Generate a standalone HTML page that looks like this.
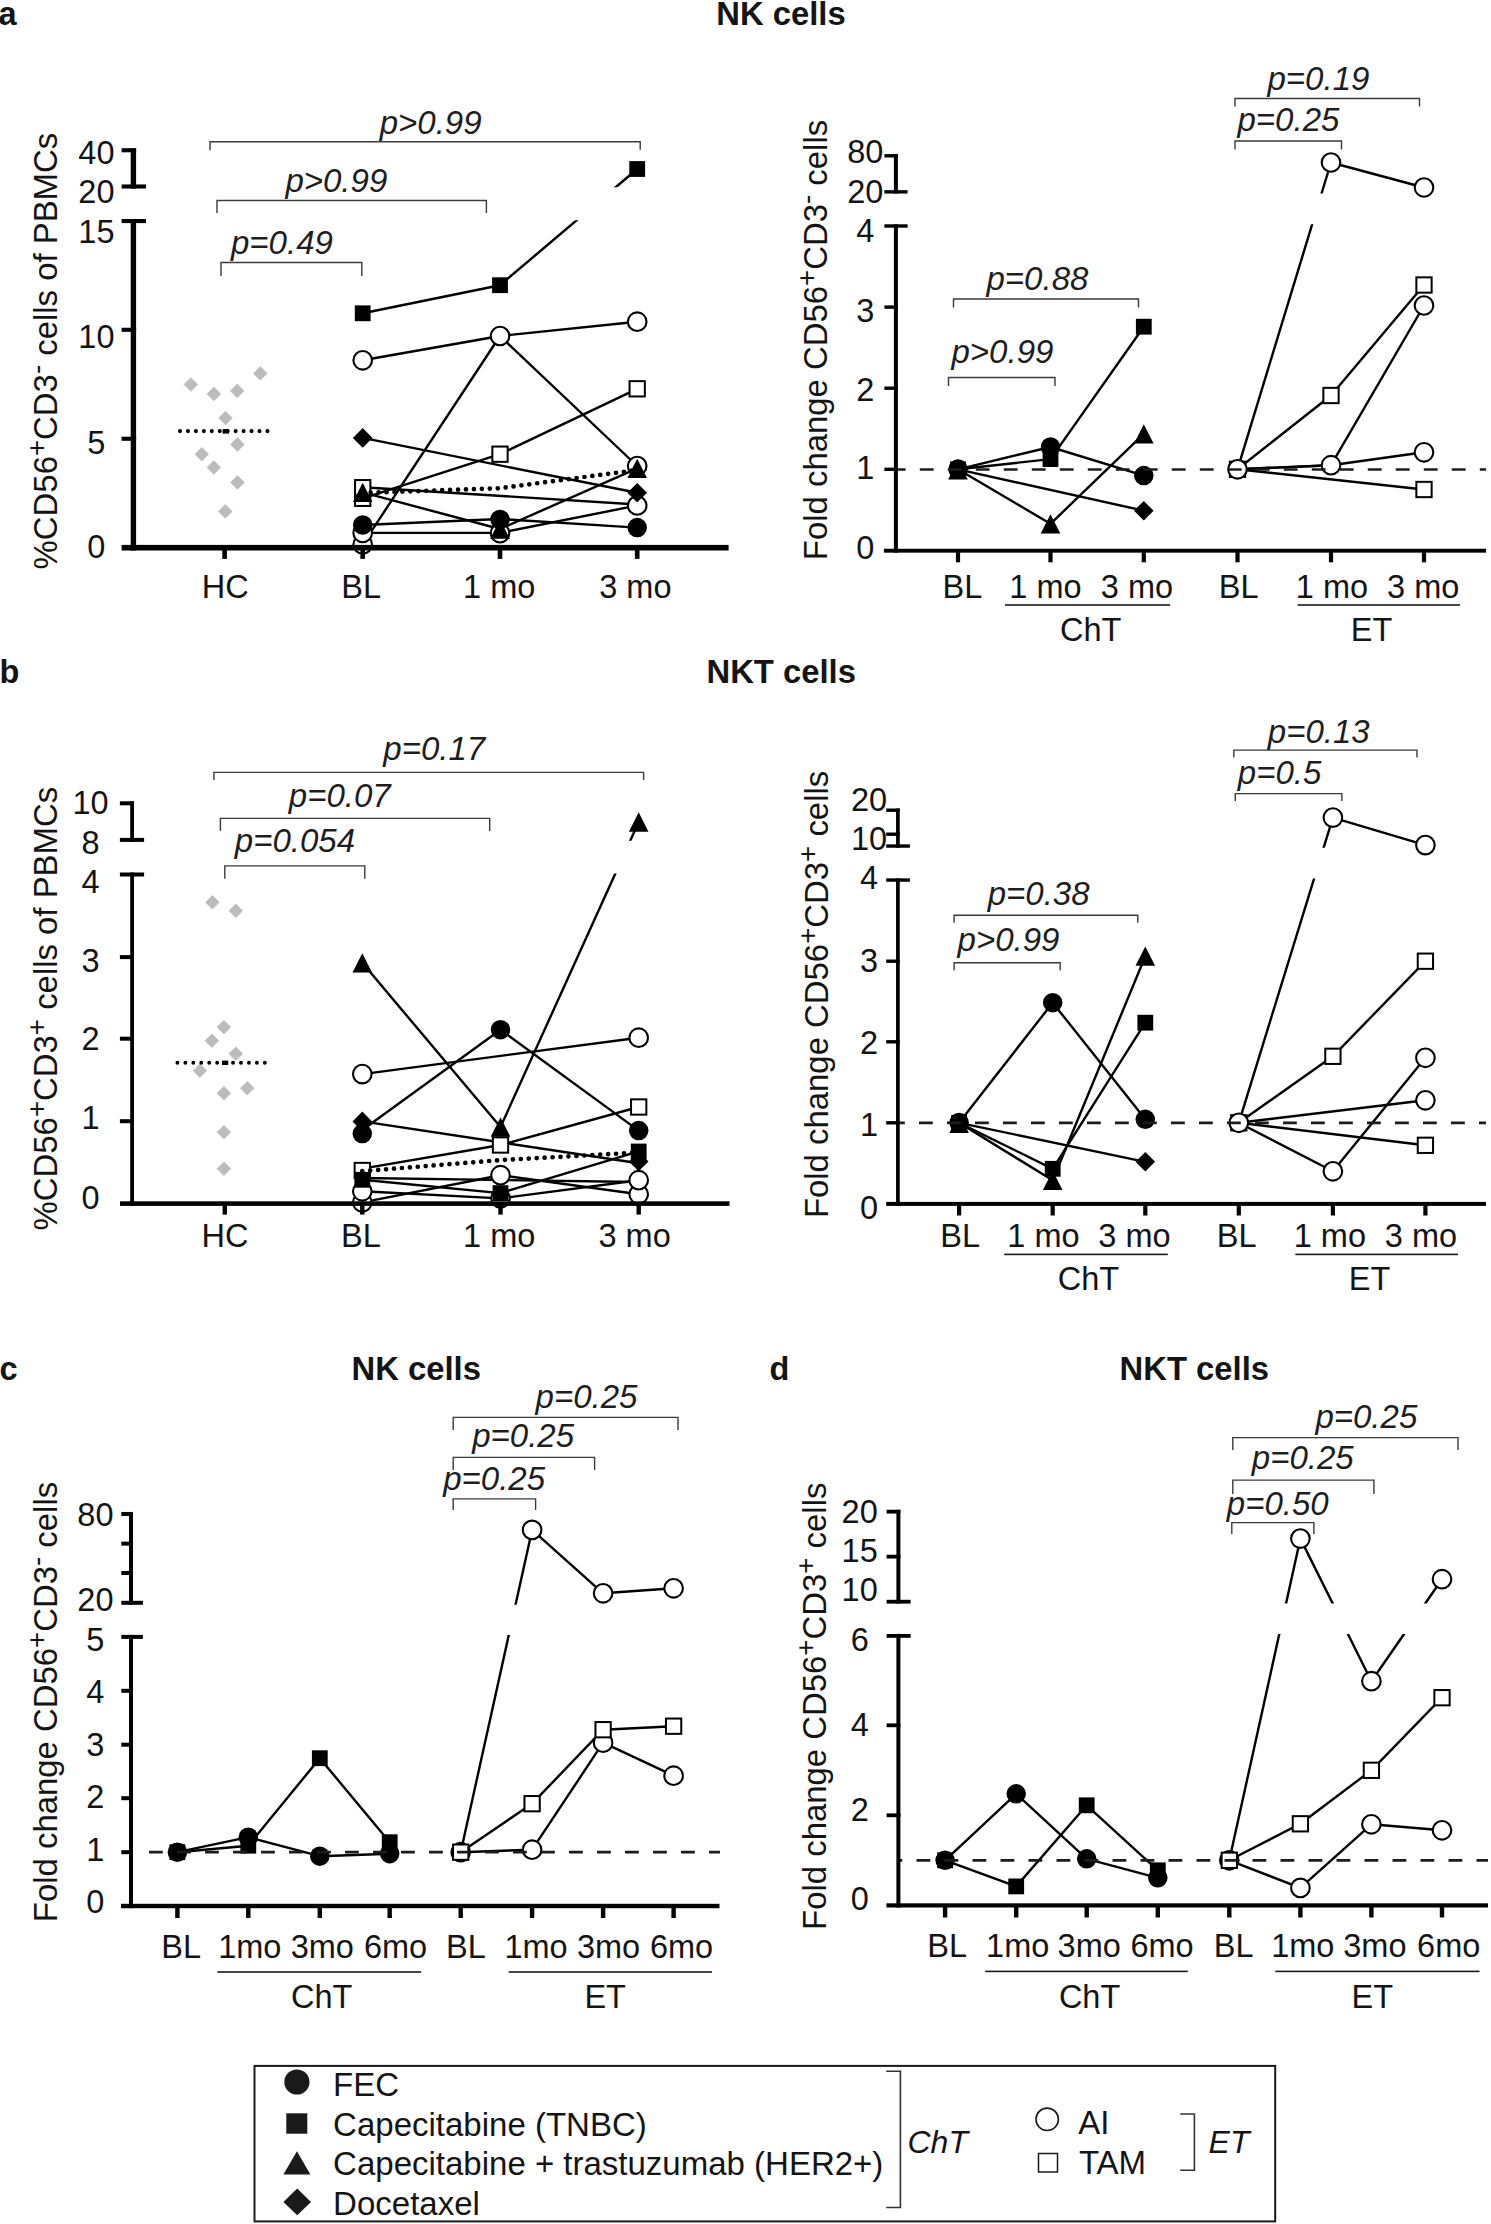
<!DOCTYPE html>
<html><head><meta charset="utf-8"><title>Figure</title>
<style>
html,body{margin:0;padding:0;background:#fff;}
body{width:1491px;height:2224px;overflow:hidden;}
svg{display:block;font-family:"Liberation Sans", sans-serif;}
</style></head><body>
<svg width="1491" height="2224" viewBox="0 0 1491 2224">
<defs><clipPath id="c1"><rect x="140" y="100" width="600" height="87.3"/><rect x="140" y="220.3" width="600" height="340"/></clipPath><clipPath id="c2"><rect x="900" y="100" width="600" height="93.5"/><rect x="900" y="224.2" width="600" height="340"/></clipPath><clipPath id="c3"><rect x="140" y="750" width="600" height="90.8"/><rect x="140" y="873.5" width="600" height="340"/></clipPath><clipPath id="c4"><rect x="900" y="750" width="600" height="97.8"/><rect x="900" y="878.4" width="600" height="340"/></clipPath><clipPath id="c5"><rect x="135" y="1450" width="600" height="154.8"/><rect x="135" y="1634.9" width="600" height="300"/></clipPath><clipPath id="c6"><rect x="902" y="1450" width="600" height="153.6"/><rect x="902" y="1633.9" width="600" height="300"/></clipPath></defs>
<rect width="1491" height="2224" fill="#fff"/>
<polygon points="190.9,377.7 197.7,384.5 190.9,391.3 184.1,384.5" fill="#bcbcbc" stroke="#bcbcbc" stroke-width="0.8" stroke-linejoin="round"/>
<polygon points="213.9,387.1 220.7,393.9 213.9,400.7 207.1,393.9" fill="#bcbcbc" stroke="#bcbcbc" stroke-width="0.8" stroke-linejoin="round"/>
<polygon points="237.2,384.1 244,390.9 237.2,397.7 230.4,390.9" fill="#bcbcbc" stroke="#bcbcbc" stroke-width="0.8" stroke-linejoin="round"/>
<polygon points="260.3,366.6 267.1,373.4 260.3,380.2 253.5,373.4" fill="#bcbcbc" stroke="#bcbcbc" stroke-width="0.8" stroke-linejoin="round"/>
<polygon points="225.5,411.2 232.3,418 225.5,424.8 218.7,418" fill="#bcbcbc" stroke="#bcbcbc" stroke-width="0.8" stroke-linejoin="round"/>
<polygon points="237.4,437.6 244.2,444.4 237.4,451.2 230.6,444.4" fill="#bcbcbc" stroke="#bcbcbc" stroke-width="0.8" stroke-linejoin="round"/>
<polygon points="201.8,447.4 208.6,454.2 201.8,461 195,454.2" fill="#bcbcbc" stroke="#bcbcbc" stroke-width="0.8" stroke-linejoin="round"/>
<polygon points="213.9,460.7 220.7,467.5 213.9,474.3 207.1,467.5" fill="#bcbcbc" stroke="#bcbcbc" stroke-width="0.8" stroke-linejoin="round"/>
<polygon points="237.5,475.6 244.3,482.4 237.5,489.2 230.7,482.4" fill="#bcbcbc" stroke="#bcbcbc" stroke-width="0.8" stroke-linejoin="round"/>
<polygon points="225.3,504.6 232.1,511.4 225.3,518.2 218.5,511.4" fill="#bcbcbc" stroke="#bcbcbc" stroke-width="0.8" stroke-linejoin="round"/>
<polyline points="180,431.1 268,431.1" fill="none" stroke="#000" stroke-width="4.1" stroke-linecap="round" stroke-dasharray="0 7.95"/>
<rect x="222.6" y="429" width="6.4" height="4.6" fill="#000"/>
<g clip-path="url(#c1)">
<polyline points="362.7,313.3 500,285.2 637.2,169" fill="none" stroke="#000" stroke-width="2.4" stroke-linejoin="round" />
<polyline points="362.7,360.3 500,336 637.2,321.7" fill="none" stroke="#000" stroke-width="2.4" stroke-linejoin="round" />
<polyline points="362.7,544.4 500,336 637.2,466" fill="none" stroke="#000" stroke-width="2.4" stroke-linejoin="round" />
<polyline points="362.7,498.3 500,454.2 637.2,388.8" fill="none" stroke="#000" stroke-width="2.4" stroke-linejoin="round" />
<polyline points="362.7,437.9 637.2,492.8" fill="none" stroke="#000" stroke-width="2.4" stroke-linejoin="round" />
<polyline points="362.7,487.3 637.2,504.5" fill="none" stroke="#000" stroke-width="2.4" stroke-linejoin="round" />
<polyline points="362.7,492.4 500,529 637.2,468.4" fill="none" stroke="#000" stroke-width="2.4" stroke-linejoin="round" />
<polyline points="362.7,525 500,519 637.2,527.6" fill="none" stroke="#000" stroke-width="2.4" stroke-linejoin="round" />
<polyline points="362.7,532.9 500,532.9 637.2,505.5" fill="none" stroke="#000" stroke-width="2.4" stroke-linejoin="round" />
</g>
<circle cx="362.7" cy="544.4" r="9.3" fill="#fff" stroke="#000" stroke-width="2.1"/>
<circle cx="362.7" cy="532.9" r="9.3" fill="#fff" stroke="#000" stroke-width="2.1"/>
<circle cx="362.7" cy="525" r="9.75" fill="#000"/>
<rect x="355.05" y="490.65" width="15.3" height="15.3" fill="#fff" stroke="#000" stroke-width="2"/>
<rect x="355.05" y="480.05" width="15.3" height="15.3" fill="#fff" stroke="#000" stroke-width="2"/>
<polygon points="362.7,482.75 372.5,502.05 352.9,502.05" fill="#000"/>
<polygon points="362.7,428.1 372.5,437.9 362.7,447.7 352.9,437.9" fill="#000"/>
<circle cx="362.7" cy="360.3" r="9.3" fill="#fff" stroke="#000" stroke-width="2.1"/>
<rect x="354.8" y="305.4" width="15.8" height="15.8" fill="#000"/>
<rect x="492.1" y="277.3" width="15.8" height="15.8" fill="#000"/>
<circle cx="500" cy="336" r="9.3" fill="#fff" stroke="#000" stroke-width="2.1"/>
<rect x="492.35" y="446.55" width="15.3" height="15.3" fill="#fff" stroke="#000" stroke-width="2"/>
<circle cx="500" cy="533.2" r="9.3" fill="#fff" stroke="#000" stroke-width="2.1"/>
<polygon points="500,519.35 509.8,538.65 490.2,538.65" fill="#000"/>
<circle cx="500" cy="519.5" r="9.75" fill="#000"/>
<rect x="629.3" y="161.1" width="15.8" height="15.8" fill="#000"/>
<circle cx="637.2" cy="321.7" r="9.3" fill="#fff" stroke="#000" stroke-width="2.1"/>
<rect x="629.55" y="381.15" width="15.3" height="15.3" fill="#fff" stroke="#000" stroke-width="2"/>
<circle cx="637.2" cy="466" r="9.3" fill="#fff" stroke="#000" stroke-width="2.1"/>
<polygon points="637.2,458.75 647,478.05 627.4,478.05" fill="#000"/>
<circle cx="637.2" cy="505.5" r="9.3" fill="#fff" stroke="#000" stroke-width="2.1"/>
<polygon points="637.2,483 647,492.8 637.2,502.6 627.4,492.8" fill="#000"/>
<circle cx="637.2" cy="527.6" r="9.75" fill="#000"/>
<polyline points="362.7,493 500,488.2 637.2,470" fill="none" stroke="#000" stroke-width="4.7" stroke-linecap="round" stroke-dasharray="0 7.95"/>
<rect x="130.7" y="148.4" width="5.4" height="40.2" fill="#000"/>
<rect x="130.7" y="219.2" width="5.4" height="331.3" fill="#000"/>
<rect x="121.6" y="148.2" width="14.5" height="4.1" fill="#000"/>
<rect x="121.6" y="184.45" width="24.4" height="4.1" fill="#000"/>
<rect x="121.6" y="219" width="24.4" height="4.1" fill="#000"/>
<rect x="121.6" y="327.75" width="14.5" height="4.1" fill="#000"/>
<rect x="121.6" y="436.7" width="14.5" height="4.1" fill="#000"/>
<rect x="121.6" y="544.9" width="607" height="5.6" fill="#000"/>
<rect x="222.3" y="547.7" width="4.6" height="11.2" fill="#000"/>
<rect x="360.4" y="547.7" width="4.6" height="11.2" fill="#000"/>
<rect x="497.7" y="547.7" width="4.6" height="11.2" fill="#000"/>
<rect x="634.9" y="547.7" width="4.6" height="11.2" fill="#000"/>
<text x="96.4" y="163.7" font-size="32.5" text-anchor="middle" font-weight="normal" font-style="normal" fill="#141414" >40</text>
<text x="96.4" y="203.2" font-size="32.5" text-anchor="middle" font-weight="normal" font-style="normal" fill="#141414" >20</text>
<text x="96.4" y="242.5" font-size="32.5" text-anchor="middle" font-weight="normal" font-style="normal" fill="#141414" >15</text>
<text x="96.4" y="348" font-size="32.5" text-anchor="middle" font-weight="normal" font-style="normal" fill="#141414" >10</text>
<text x="96.4" y="453.5" font-size="32.5" text-anchor="middle" font-weight="normal" font-style="normal" fill="#141414" >5</text>
<text x="96.4" y="558.2" font-size="32.5" text-anchor="middle" font-weight="normal" font-style="normal" fill="#141414" >0</text>
<text x="225.3" y="597.8" font-size="32.5" text-anchor="middle" font-weight="normal" font-style="normal" fill="#141414" >HC</text>
<text x="361.1" y="597.8" font-size="32.5" text-anchor="middle" font-weight="normal" font-style="normal" fill="#141414" >BL</text>
<text x="499.2" y="597.8" font-size="32.5" text-anchor="middle" font-weight="normal" font-style="normal" fill="#141414" >1 mo</text>
<text x="635.4" y="597.8" font-size="32.5" text-anchor="middle" font-weight="normal" font-style="normal" fill="#141414" >3 mo</text>
<text transform="translate(57,351.1) rotate(-90)" x="0" y="0" font-size="32.9" text-anchor="middle" fill="#141414"><tspan>%CD56</tspan><tspan font-size="27.64" dy="-11">+</tspan><tspan dy="11">CD3</tspan><tspan font-size="27.64" dy="-11">-</tspan><tspan dy="11"> cells of PBMCs</tspan></text>
<polyline points="210,150.2 210,141.7 640.2,141.7 640.2,149.7" fill="none" stroke="#3a3a3a" stroke-width="1.4"/>
<polyline points="217,213 217,200.5 486.4,200.5 486.4,213" fill="none" stroke="#3a3a3a" stroke-width="1.4"/>
<polyline points="221,276 221,262.5 361.8,262.5 361.8,276" fill="none" stroke="#3a3a3a" stroke-width="1.4"/>
<text x="379.7" y="133.5" font-size="33" text-anchor="start" font-weight="normal" font-style="italic" fill="#1e1e1e" >p&gt;0.99</text>
<text x="285.4" y="191.8" font-size="33" text-anchor="start" font-weight="normal" font-style="italic" fill="#1e1e1e" >p&gt;0.99</text>
<text x="231" y="254" font-size="33" text-anchor="start" font-weight="normal" font-style="italic" fill="#1e1e1e" >p=0.49</text>
<g clip-path="url(#c2)">
<polyline points="958,469.3 1050.5,447 1143.8,475.6" fill="none" stroke="#000" stroke-width="2.4" stroke-linejoin="round" />
<polyline points="958,469.3 1050.5,459.1 1143.8,326.7" fill="none" stroke="#000" stroke-width="2.4" stroke-linejoin="round" />
<polyline points="958,469.3 1050.5,523.8 1143.8,433.9" fill="none" stroke="#000" stroke-width="2.4" stroke-linejoin="round" />
<polyline points="958,469.3 1143.8,510.7" fill="none" stroke="#000" stroke-width="2.4" stroke-linejoin="round" />
<polyline points="1237.5,469.3 1331,162.5 1424,187.5" fill="none" stroke="#000" stroke-width="2.4" stroke-linejoin="round" />
<polyline points="1237.5,469.3 1331,395.5 1424,285" fill="none" stroke="#000" stroke-width="2.4" stroke-linejoin="round" />
<polyline points="1237.5,469.3 1331,465.2 1424,305.5" fill="none" stroke="#000" stroke-width="2.4" stroke-linejoin="round" />
<polyline points="1237.5,469.3 1331,465.2 1424,452.3" fill="none" stroke="#000" stroke-width="2.4" stroke-linejoin="round" />
<polyline points="1237.5,469.3 1424,489.5" fill="none" stroke="#000" stroke-width="2.4" stroke-linejoin="round" />
</g>
<polygon points="958,459.5 967.8,469.3 958,479.1 948.2,469.3" fill="#000"/>
<polygon points="958,460.15 967.8,479.45 948.2,479.45" fill="#000"/>
<rect x="950.1" y="461.4" width="15.8" height="15.8" fill="#000"/>
<circle cx="958" cy="469.1" r="9.75" fill="#000"/>
<rect x="1042.6" y="451.2" width="15.8" height="15.8" fill="#000"/>
<circle cx="1050.5" cy="447" r="9.75" fill="#000"/>
<polygon points="1050.5,514.15 1060.3,533.45 1040.7,533.45" fill="#000"/>
<rect x="1135.9" y="318.8" width="15.8" height="15.8" fill="#000"/>
<polygon points="1143.8,424.25 1153.6,443.55 1134,443.55" fill="#000"/>
<circle cx="1143.8" cy="475.6" r="9.75" fill="#000"/>
<polygon points="1143.8,500.9 1153.6,510.7 1143.8,520.5 1134,510.7" fill="#000"/>
<rect x="1229.85" y="461.65" width="15.3" height="15.3" fill="#fff" stroke="#000" stroke-width="2"/>
<circle cx="1237.5" cy="469.3" r="9.3" fill="#fff" stroke="#000" stroke-width="2.1"/>
<circle cx="1331" cy="162.5" r="9.3" fill="#fff" stroke="#000" stroke-width="2.1"/>
<rect x="1323.35" y="387.85" width="15.3" height="15.3" fill="#fff" stroke="#000" stroke-width="2"/>
<circle cx="1331" cy="465.2" r="9.3" fill="#fff" stroke="#000" stroke-width="2.1"/>
<circle cx="1424" cy="187.5" r="9.3" fill="#fff" stroke="#000" stroke-width="2.1"/>
<rect x="1416.35" y="277.35" width="15.3" height="15.3" fill="#fff" stroke="#000" stroke-width="2"/>
<circle cx="1424" cy="305.5" r="9.3" fill="#fff" stroke="#000" stroke-width="2.1"/>
<circle cx="1424" cy="452.3" r="9.3" fill="#fff" stroke="#000" stroke-width="2.1"/>
<rect x="1416.35" y="481.85" width="15.3" height="15.3" fill="#fff" stroke="#000" stroke-width="2"/>
<line x1="894" y1="469.5" x2="1486" y2="469.5" stroke="#1c1c1c" stroke-width="2.7" stroke-dasharray="13.8 14.2" stroke-dashoffset="2.2"/>
<rect x="893.9" y="154.1" width="4" height="39.4" fill="#000"/>
<rect x="893.9" y="224.3" width="4" height="328.3" fill="#000"/>
<rect x="884.4" y="154.1" width="13.4" height="3.4" fill="#000"/>
<rect x="884.4" y="190.15" width="23.2" height="3.4" fill="#000"/>
<rect x="884.4" y="224.3" width="23.2" height="3.4" fill="#000"/>
<rect x="884.4" y="305.4" width="13.4" height="3.4" fill="#000"/>
<rect x="884.4" y="386.5" width="13.4" height="3.4" fill="#000"/>
<rect x="884.4" y="467.6" width="13.4" height="3.4" fill="#000"/>
<rect x="883.9" y="548.75" width="602.1" height="3.9" fill="#000"/>
<rect x="955.9" y="550.7" width="4.2" height="11.6" fill="#000"/>
<rect x="1048.4" y="550.7" width="4.2" height="11.6" fill="#000"/>
<rect x="1141.7" y="550.7" width="4.2" height="11.6" fill="#000"/>
<rect x="1235.4" y="550.7" width="4.2" height="11.6" fill="#000"/>
<rect x="1328.9" y="550.7" width="4.2" height="11.6" fill="#000"/>
<rect x="1421.9" y="550.7" width="4.2" height="11.6" fill="#000"/>
<text x="865.3" y="163.3" font-size="32.5" text-anchor="middle" font-weight="normal" font-style="normal" fill="#141414" >80</text>
<text x="865.3" y="203" font-size="32.5" text-anchor="middle" font-weight="normal" font-style="normal" fill="#141414" >20</text>
<text x="865.3" y="242.3" font-size="32.5" text-anchor="middle" font-weight="normal" font-style="normal" fill="#141414" >4</text>
<text x="865.3" y="321.5" font-size="32.5" text-anchor="middle" font-weight="normal" font-style="normal" fill="#141414" >3</text>
<text x="865.3" y="400.5" font-size="32.5" text-anchor="middle" font-weight="normal" font-style="normal" fill="#141414" >2</text>
<text x="865.3" y="479.3" font-size="32.5" text-anchor="middle" font-weight="normal" font-style="normal" fill="#141414" >1</text>
<text x="865.3" y="558.5" font-size="32.5" text-anchor="middle" font-weight="normal" font-style="normal" fill="#141414" >0</text>
<text x="962.5" y="598.2" font-size="32.5" text-anchor="middle" font-weight="normal" font-style="normal" fill="#141414" >BL</text>
<text x="1045.5" y="598.2" font-size="32.5" text-anchor="middle" font-weight="normal" font-style="normal" fill="#141414" >1 mo</text>
<text x="1137" y="598.2" font-size="32.5" text-anchor="middle" font-weight="normal" font-style="normal" fill="#141414" >3 mo</text>
<text x="1238.7" y="598.2" font-size="32.5" text-anchor="middle" font-weight="normal" font-style="normal" fill="#141414" >BL</text>
<text x="1332" y="598.2" font-size="32.5" text-anchor="middle" font-weight="normal" font-style="normal" fill="#141414" >1 mo</text>
<text x="1423.2" y="598.2" font-size="32.5" text-anchor="middle" font-weight="normal" font-style="normal" fill="#141414" >3 mo</text>
<rect x="1005" y="604.2" width="165" height="1.6" fill="#1a1a1a"/>
<rect x="1297.5" y="604.2" width="162.5" height="1.6" fill="#1a1a1a"/>
<text x="1090.7" y="641" font-size="32.5" text-anchor="middle" font-weight="normal" font-style="normal" fill="#141414" >ChT</text>
<text x="1371.6" y="641" font-size="32.5" text-anchor="middle" font-weight="normal" font-style="normal" fill="#141414" >ET</text>
<text transform="translate(827,340) rotate(-90)" x="0" y="0" font-size="32.9" text-anchor="middle" fill="#141414"><tspan>Fold change CD56</tspan><tspan font-size="27.64" dy="-11">+</tspan><tspan dy="11">CD3</tspan><tspan font-size="27.64" dy="-11">-</tspan><tspan dy="11"> cells</tspan></text>
<polyline points="953.5,307.5 953.5,299 1138.5,299 1138.5,307.5" fill="none" stroke="#3a3a3a" stroke-width="1.4"/>
<polyline points="948.5,386 948.5,377.5 1055,377.5 1055,386" fill="none" stroke="#3a3a3a" stroke-width="1.4"/>
<polyline points="1235,106.5 1235,98.5 1419.5,98.5 1419.5,106.5" fill="none" stroke="#3a3a3a" stroke-width="1.4"/>
<polyline points="1235,149.5 1235,141 1341.5,141 1341.5,149.5" fill="none" stroke="#3a3a3a" stroke-width="1.4"/>
<text x="986.5" y="290" font-size="33" text-anchor="start" font-weight="normal" font-style="italic" fill="#1e1e1e" >p=0.88</text>
<text x="951.5" y="362.5" font-size="33" text-anchor="start" font-weight="normal" font-style="italic" fill="#1e1e1e" >p&gt;0.99</text>
<text x="1267.5" y="90" font-size="33" text-anchor="start" font-weight="normal" font-style="italic" fill="#1e1e1e" >p=0.19</text>
<text x="1237.5" y="131" font-size="33" text-anchor="start" font-weight="normal" font-style="italic" fill="#1e1e1e" >p=0.25</text>
<polygon points="212.4,895.5 219.2,902.3 212.4,909.1 205.6,902.3" fill="#bcbcbc" stroke="#bcbcbc" stroke-width="0.8" stroke-linejoin="round"/>
<polygon points="235.8,904 242.6,910.8 235.8,917.6 229,910.8" fill="#bcbcbc" stroke="#bcbcbc" stroke-width="0.8" stroke-linejoin="round"/>
<polygon points="223.9,1020.4 230.7,1027.2 223.9,1034 217.1,1027.2" fill="#bcbcbc" stroke="#bcbcbc" stroke-width="0.8" stroke-linejoin="round"/>
<polygon points="211.9,1033.9 218.7,1040.7 211.9,1047.5 205.1,1040.7" fill="#bcbcbc" stroke="#bcbcbc" stroke-width="0.8" stroke-linejoin="round"/>
<polygon points="235.8,1046.9 242.6,1053.7 235.8,1060.5 229,1053.7" fill="#bcbcbc" stroke="#bcbcbc" stroke-width="0.8" stroke-linejoin="round"/>
<polygon points="199.9,1063.9 206.7,1070.7 199.9,1077.5 193.1,1070.7" fill="#bcbcbc" stroke="#bcbcbc" stroke-width="0.8" stroke-linejoin="round"/>
<polygon points="223.9,1086.4 230.7,1093.2 223.9,1100 217.1,1093.2" fill="#bcbcbc" stroke="#bcbcbc" stroke-width="0.8" stroke-linejoin="round"/>
<polygon points="247.3,1081.4 254.1,1088.2 247.3,1095 240.5,1088.2" fill="#bcbcbc" stroke="#bcbcbc" stroke-width="0.8" stroke-linejoin="round"/>
<polygon points="223.9,1125.4 230.7,1132.2 223.9,1139 217.1,1132.2" fill="#bcbcbc" stroke="#bcbcbc" stroke-width="0.8" stroke-linejoin="round"/>
<polygon points="223.9,1161.9 230.7,1168.7 223.9,1175.5 217.1,1168.7" fill="#bcbcbc" stroke="#bcbcbc" stroke-width="0.8" stroke-linejoin="round"/>
<polyline points="177.4,1062.7 268.3,1062.7" fill="none" stroke="#000" stroke-width="3.9" stroke-linecap="round" stroke-dasharray="0 7.95"/>
<rect x="222" y="1060.6" width="6.2" height="4.4" fill="#000"/>
<g clip-path="url(#c3)">
<polyline points="362.3,962.8 500.5,1127 638.7,822" fill="none" stroke="#000" stroke-width="2.4" stroke-linejoin="round" />
<polyline points="362.3,1074.1 638.7,1037.7" fill="none" stroke="#000" stroke-width="2.4" stroke-linejoin="round" />
<polyline points="362.3,1130 500.5,1029.7 638.7,1130.6" fill="none" stroke="#000" stroke-width="2.4" stroke-linejoin="round" />
<polyline points="362.3,1121.4 638.7,1163.2" fill="none" stroke="#000" stroke-width="2.4" stroke-linejoin="round" />
<polyline points="362.3,1168.6 500.5,1145 638.7,1107" fill="none" stroke="#000" stroke-width="2.4" stroke-linejoin="round" />
<polyline points="362.3,1179.8 500.5,1193.1 638.7,1151.4" fill="none" stroke="#000" stroke-width="2.4" stroke-linejoin="round" />
<polyline points="362.3,1202.4 500.5,1175.2 638.7,1194.3" fill="none" stroke="#000" stroke-width="2.4" stroke-linejoin="round" />
<polyline points="362.3,1191.3 500.5,1198.4 638.7,1180.2" fill="none" stroke="#000" stroke-width="2.4" stroke-linejoin="round" />
<polyline points="362.3,1178 638.7,1182" fill="none" stroke="#000" stroke-width="2.4" stroke-linejoin="round" />
</g>
<circle cx="362.3" cy="1202.4" r="9.3" fill="#fff" stroke="#000" stroke-width="2.1"/>
<circle cx="362.3" cy="1191.3" r="9.3" fill="#fff" stroke="#000" stroke-width="2.1"/>
<rect x="354.65" y="1162.85" width="15.3" height="15.3" fill="#fff" stroke="#000" stroke-width="2"/>
<rect x="354.4" y="1171.9" width="15.8" height="15.8" fill="#000"/>
<circle cx="362.3" cy="1133.6" r="9.75" fill="#000"/>
<polygon points="362.3,1111.6 372.1,1121.4 362.3,1131.2 352.5,1121.4" fill="#000"/>
<circle cx="362.3" cy="1074.1" r="9.3" fill="#fff" stroke="#000" stroke-width="2.1"/>
<polygon points="362.3,953.15 372.1,972.45 352.5,972.45" fill="#000"/>
<circle cx="500.5" cy="1198.4" r="9.3" fill="#fff" stroke="#000" stroke-width="2.1"/>
<rect x="492.6" y="1185.2" width="15.8" height="15.8" fill="#000"/>
<circle cx="500.5" cy="1175.2" r="9.3" fill="#fff" stroke="#000" stroke-width="2.1"/>
<rect x="492.85" y="1137.35" width="15.3" height="15.3" fill="#fff" stroke="#000" stroke-width="2"/>
<polygon points="500.5,1117.35 510.3,1136.65 490.7,1136.65" fill="#000"/>
<circle cx="500.5" cy="1029.7" r="9.75" fill="#000"/>
<circle cx="638.7" cy="1194.3" r="9.3" fill="#fff" stroke="#000" stroke-width="2.1"/>
<circle cx="638.7" cy="1180.2" r="9.3" fill="#fff" stroke="#000" stroke-width="2.1"/>
<polygon points="638.7,1151.6 648.5,1161.4 638.7,1171.2 628.9,1161.4" fill="#000"/>
<rect x="630.8" y="1143.6" width="15.8" height="15.8" fill="#000"/>
<circle cx="638.7" cy="1130.6" r="9.75" fill="#000"/>
<rect x="631.05" y="1099.35" width="15.3" height="15.3" fill="#fff" stroke="#000" stroke-width="2"/>
<circle cx="638.7" cy="1037.7" r="9.3" fill="#fff" stroke="#000" stroke-width="2.1"/>
<polygon points="638.7,812.35 648.5,831.65 628.9,831.65" fill="#000"/>
<polyline points="362.3,1171.2 500.5,1160.1 638.7,1152.5" fill="none" stroke="#000" stroke-width="4.7" stroke-linecap="round" stroke-dasharray="0 7.95"/>
<rect x="130.2" y="801.3" width="3.8" height="40.5" fill="#000"/>
<rect x="130.2" y="872.5" width="3.8" height="333.5" fill="#000"/>
<rect x="119.9" y="801.3" width="14.1" height="4" fill="#000"/>
<rect x="119.9" y="837.9" width="24.2" height="4" fill="#000"/>
<rect x="119.9" y="872.5" width="24.2" height="4" fill="#000"/>
<rect x="119.9" y="955.1" width="14.1" height="4" fill="#000"/>
<rect x="119.9" y="1036.7" width="14.1" height="4" fill="#000"/>
<rect x="119.9" y="1119.2" width="14.1" height="4" fill="#000"/>
<rect x="120" y="1201.3" width="609.5" height="4.6" fill="#000"/>
<rect x="222.6" y="1203.6" width="4.4" height="11" fill="#000"/>
<rect x="360.1" y="1203.6" width="4.4" height="11" fill="#000"/>
<rect x="498.3" y="1203.6" width="4.4" height="11" fill="#000"/>
<rect x="636.5" y="1203.6" width="4.4" height="11" fill="#000"/>
<text x="90.5" y="814" font-size="32.5" text-anchor="middle" font-weight="normal" font-style="normal" fill="#141414" >10</text>
<text x="90.5" y="853.5" font-size="32.5" text-anchor="middle" font-weight="normal" font-style="normal" fill="#141414" >8</text>
<text x="90.5" y="892.8" font-size="32.5" text-anchor="middle" font-weight="normal" font-style="normal" fill="#141414" >4</text>
<text x="90.5" y="971.8" font-size="32.5" text-anchor="middle" font-weight="normal" font-style="normal" fill="#141414" >3</text>
<text x="90.5" y="1050.2" font-size="32.5" text-anchor="middle" font-weight="normal" font-style="normal" fill="#141414" >2</text>
<text x="90.5" y="1129.3" font-size="32.5" text-anchor="middle" font-weight="normal" font-style="normal" fill="#141414" >1</text>
<text x="90.5" y="1208.5" font-size="32.5" text-anchor="middle" font-weight="normal" font-style="normal" fill="#141414" >0</text>
<text x="224.9" y="1247" font-size="32.5" text-anchor="middle" font-weight="normal" font-style="normal" fill="#141414" >HC</text>
<text x="361" y="1247" font-size="32.5" text-anchor="middle" font-weight="normal" font-style="normal" fill="#141414" >BL</text>
<text x="499.2" y="1247" font-size="32.5" text-anchor="middle" font-weight="normal" font-style="normal" fill="#141414" >1 mo</text>
<text x="634.6" y="1247" font-size="32.5" text-anchor="middle" font-weight="normal" font-style="normal" fill="#141414" >3 mo</text>
<text transform="translate(57,1008.65) rotate(-90)" x="0" y="0" font-size="32.9" text-anchor="middle" fill="#141414"><tspan>%CD56</tspan><tspan font-size="27.64" dy="-11">+</tspan><tspan dy="11">CD3</tspan><tspan font-size="27.64" dy="-11">+</tspan><tspan dy="11"> cells of PBMCs</tspan></text>
<polyline points="213.9,780 213.9,772.4 643.6,772.4 643.6,780" fill="none" stroke="#3a3a3a" stroke-width="1.4"/>
<polyline points="220.4,831 220.4,818.4 489.7,818.4 489.7,831" fill="none" stroke="#3a3a3a" stroke-width="1.4"/>
<polyline points="224.8,878.8 224.8,865.9 364.8,865.9 364.8,878.8" fill="none" stroke="#3a3a3a" stroke-width="1.4"/>
<text x="383.3" y="760" font-size="33" text-anchor="start" font-weight="normal" font-style="italic" fill="#1e1e1e" >p=0.17</text>
<text x="288.8" y="807.4" font-size="33" text-anchor="start" font-weight="normal" font-style="italic" fill="#1e1e1e" >p=0.07</text>
<text x="234.8" y="852.4" font-size="33" text-anchor="start" font-weight="normal" font-style="italic" fill="#1e1e1e" >p=0.054</text>
<g clip-path="url(#c4)">
<polyline points="959.1,1122.8 1052.7,1002.7 1145.3,1119.3" fill="none" stroke="#000" stroke-width="2.4" stroke-linejoin="round" />
<polyline points="959.1,1122.8 1052.7,1168.8 1145.3,1022.7" fill="none" stroke="#000" stroke-width="2.4" stroke-linejoin="round" />
<polyline points="959.1,1122.8 1052.7,1180.3 1145.3,956.2" fill="none" stroke="#000" stroke-width="2.4" stroke-linejoin="round" />
<polyline points="959.1,1122.8 1145.3,1161.8" fill="none" stroke="#000" stroke-width="2.4" stroke-linejoin="round" />
<polyline points="1238.8,1122.8 1332.9,817.6 1425.4,845.1" fill="none" stroke="#000" stroke-width="2.4" stroke-linejoin="round" />
<polyline points="1238.8,1122.8 1332.9,1056.3 1425.4,961.2" fill="none" stroke="#000" stroke-width="2.4" stroke-linejoin="round" />
<polyline points="1238.8,1122.8 1332.9,1171.3 1425.4,1057.8" fill="none" stroke="#000" stroke-width="2.4" stroke-linejoin="round" />
<polyline points="1238.8,1122.8 1425.4,1100.3" fill="none" stroke="#000" stroke-width="2.4" stroke-linejoin="round" />
<polyline points="1238.8,1122.8 1425.4,1145.3" fill="none" stroke="#000" stroke-width="2.4" stroke-linejoin="round" />
</g>
<polygon points="959.1,1113.65 968.9,1132.95 949.3,1132.95" fill="#000"/>
<rect x="951.2" y="1114.9" width="15.8" height="15.8" fill="#000"/>
<circle cx="959.1" cy="1122.6" r="9.75" fill="#000"/>
<circle cx="1052.7" cy="1002.7" r="9.75" fill="#000"/>
<rect x="1044.8" y="1160.9" width="15.8" height="15.8" fill="#000"/>
<polygon points="1052.7,1170.65 1062.5,1189.95 1042.9,1189.95" fill="#000"/>
<polygon points="1145.3,946.55 1155.1,965.85 1135.5,965.85" fill="#000"/>
<rect x="1137.4" y="1014.8" width="15.8" height="15.8" fill="#000"/>
<circle cx="1145.3" cy="1119.3" r="9.75" fill="#000"/>
<polygon points="1145.3,1152 1155.1,1161.8 1145.3,1171.6 1135.5,1161.8" fill="#000"/>
<rect x="1231.15" y="1115.15" width="15.3" height="15.3" fill="#fff" stroke="#000" stroke-width="2"/>
<circle cx="1238.8" cy="1122.8" r="9.3" fill="#fff" stroke="#000" stroke-width="2.1"/>
<circle cx="1332.9" cy="817.6" r="9.3" fill="#fff" stroke="#000" stroke-width="2.1"/>
<rect x="1325.25" y="1048.65" width="15.3" height="15.3" fill="#fff" stroke="#000" stroke-width="2"/>
<circle cx="1332.9" cy="1171.3" r="9.3" fill="#fff" stroke="#000" stroke-width="2.1"/>
<circle cx="1425.4" cy="845.1" r="9.3" fill="#fff" stroke="#000" stroke-width="2.1"/>
<rect x="1417.75" y="953.55" width="15.3" height="15.3" fill="#fff" stroke="#000" stroke-width="2"/>
<circle cx="1425.4" cy="1057.8" r="9.3" fill="#fff" stroke="#000" stroke-width="2.1"/>
<circle cx="1425.4" cy="1100.3" r="9.3" fill="#fff" stroke="#000" stroke-width="2.1"/>
<rect x="1417.75" y="1137.65" width="15.3" height="15.3" fill="#fff" stroke="#000" stroke-width="2"/>
<line x1="897" y1="1122.8" x2="1486" y2="1122.8" stroke="#1c1c1c" stroke-width="2.7" stroke-dasharray="13.8 14.2" stroke-dashoffset="6"/>
<rect x="896.05" y="808.5" width="3.7" height="39.3" fill="#000"/>
<rect x="896.05" y="878.4" width="3.7" height="327.6" fill="#000"/>
<rect x="886.2" y="808.5" width="13.5" height="3.4" fill="#000"/>
<rect x="886.2" y="832.5" width="13.5" height="3.4" fill="#000"/>
<rect x="886.2" y="844.35" width="23.7" height="3.4" fill="#000"/>
<rect x="886.2" y="878.35" width="23.7" height="3.4" fill="#000"/>
<rect x="886.2" y="959.5" width="13.5" height="3.4" fill="#000"/>
<rect x="886.2" y="1040.1" width="13.5" height="3.4" fill="#000"/>
<rect x="886.2" y="1121.1" width="13.5" height="3.4" fill="#000"/>
<rect x="886.2" y="1201.9" width="599.8" height="4" fill="#000"/>
<rect x="957" y="1203.9" width="4.2" height="11.6" fill="#000"/>
<rect x="1050.6" y="1203.9" width="4.2" height="11.6" fill="#000"/>
<rect x="1143.2" y="1203.9" width="4.2" height="11.6" fill="#000"/>
<rect x="1236.7" y="1203.9" width="4.2" height="11.6" fill="#000"/>
<rect x="1330.8" y="1203.9" width="4.2" height="11.6" fill="#000"/>
<rect x="1423.3" y="1203.9" width="4.2" height="11.6" fill="#000"/>
<text x="869" y="810.5" font-size="32.5" text-anchor="middle" font-weight="normal" font-style="normal" fill="#141414" >20</text>
<text x="869" y="850" font-size="32.5" text-anchor="middle" font-weight="normal" font-style="normal" fill="#141414" >10</text>
<text x="869" y="889.3" font-size="32.5" text-anchor="middle" font-weight="normal" font-style="normal" fill="#141414" >4</text>
<text x="869" y="972.2" font-size="32.5" text-anchor="middle" font-weight="normal" font-style="normal" fill="#141414" >3</text>
<text x="869" y="1053.8" font-size="32.5" text-anchor="middle" font-weight="normal" font-style="normal" fill="#141414" >2</text>
<text x="869" y="1136.3" font-size="32.5" text-anchor="middle" font-weight="normal" font-style="normal" fill="#141414" >1</text>
<text x="869" y="1218.5" font-size="32.5" text-anchor="middle" font-weight="normal" font-style="normal" fill="#141414" >0</text>
<text x="960.1" y="1246.8" font-size="32.5" text-anchor="middle" font-weight="normal" font-style="normal" fill="#141414" >BL</text>
<text x="1043.5" y="1246.8" font-size="32.5" text-anchor="middle" font-weight="normal" font-style="normal" fill="#141414" >1 mo</text>
<text x="1134.5" y="1246.8" font-size="32.5" text-anchor="middle" font-weight="normal" font-style="normal" fill="#141414" >3 mo</text>
<text x="1236.6" y="1246.8" font-size="32.5" text-anchor="middle" font-weight="normal" font-style="normal" fill="#141414" >BL</text>
<text x="1329.9" y="1246.8" font-size="32.5" text-anchor="middle" font-weight="normal" font-style="normal" fill="#141414" >1 mo</text>
<text x="1421" y="1246.8" font-size="32.5" text-anchor="middle" font-weight="normal" font-style="normal" fill="#141414" >3 mo</text>
<rect x="1004.2" y="1253.6" width="163.6" height="1.6" fill="#1a1a1a"/>
<rect x="1295.3" y="1253.6" width="162.7" height="1.6" fill="#1a1a1a"/>
<text x="1088.4" y="1290" font-size="32.5" text-anchor="middle" font-weight="normal" font-style="normal" fill="#141414" >ChT</text>
<text x="1369.5" y="1290" font-size="32.5" text-anchor="middle" font-weight="normal" font-style="normal" fill="#141414" >ET</text>
<text transform="translate(827.9,994.45) rotate(-90)" x="0" y="0" font-size="32.9" text-anchor="middle" fill="#141414"><tspan>Fold change CD56</tspan><tspan font-size="27.64" dy="-11">+</tspan><tspan dy="11">CD3</tspan><tspan font-size="27.64" dy="-11">+</tspan><tspan dy="11"> cells</tspan></text>
<polyline points="954.1,922.7 954.1,915.2 1137.8,915.2 1137.8,922.7" fill="none" stroke="#3a3a3a" stroke-width="1.4"/>
<polyline points="954.1,970.2 954.1,962.7 1060.2,962.7 1060.2,970.2" fill="none" stroke="#3a3a3a" stroke-width="1.4"/>
<polyline points="1233.8,757.6 1233.8,750.1 1417,750.1 1417,757.6" fill="none" stroke="#3a3a3a" stroke-width="1.4"/>
<polyline points="1235.3,801.1 1235.3,793.6 1341.9,793.6 1341.9,801.1" fill="none" stroke="#3a3a3a" stroke-width="1.4"/>
<text x="987.7" y="905.2" font-size="33" text-anchor="start" font-weight="normal" font-style="italic" fill="#1e1e1e" >p=0.38</text>
<text x="957.6" y="951.2" font-size="33" text-anchor="start" font-weight="normal" font-style="italic" fill="#1e1e1e" >p&gt;0.99</text>
<text x="1267.8" y="742.6" font-size="33" text-anchor="start" font-weight="normal" font-style="italic" fill="#1e1e1e" >p=0.13</text>
<text x="1237.8" y="783.6" font-size="33" text-anchor="start" font-weight="normal" font-style="italic" fill="#1e1e1e" >p=0.5</text>
<g clip-path="url(#c5)">
<polyline points="177.4,1852.2 248.3,1837.2 319.8,1856.2 389.7,1853.7" fill="none" stroke="#000" stroke-width="2.4" stroke-linejoin="round" />
<polyline points="177.4,1852.2 248.3,1845.7 319.8,1758.2 389.7,1842.2" fill="none" stroke="#000" stroke-width="2.4" stroke-linejoin="round" />
<polyline points="460.7,1852.2 532.1,1529.9 603.1,1593.3 673.6,1588.3" fill="none" stroke="#000" stroke-width="2.4" stroke-linejoin="round" />
<polyline points="460.7,1852.2 532.1,1803.7 603.1,1729.7 673.6,1726.2" fill="none" stroke="#000" stroke-width="2.4" stroke-linejoin="round" />
<polyline points="460.7,1852.2 532.1,1849.7 603.1,1742.7 673.6,1775.7" fill="none" stroke="#000" stroke-width="2.4" stroke-linejoin="round" />
</g>
<rect x="169.5" y="1844.3" width="15.8" height="15.8" fill="#000"/>
<circle cx="177.4" cy="1852.2" r="9.75" fill="#000"/>
<rect x="240.4" y="1837.8" width="15.8" height="15.8" fill="#000"/>
<circle cx="248.3" cy="1837.2" r="9.75" fill="#000"/>
<rect x="311.9" y="1750.3" width="15.8" height="15.8" fill="#000"/>
<circle cx="319.8" cy="1856.2" r="9.75" fill="#000"/>
<rect x="381.8" y="1834.3" width="15.8" height="15.8" fill="#000"/>
<circle cx="389.7" cy="1853.7" r="9.75" fill="#000"/>
<circle cx="460.7" cy="1852.2" r="9.3" fill="#fff" stroke="#000" stroke-width="2.1"/>
<rect x="453.05" y="1844.55" width="15.3" height="15.3" fill="#fff" stroke="#000" stroke-width="2"/>
<circle cx="532.1" cy="1529.9" r="9.3" fill="#fff" stroke="#000" stroke-width="2.1"/>
<rect x="524.45" y="1796.05" width="15.3" height="15.3" fill="#fff" stroke="#000" stroke-width="2"/>
<circle cx="532.1" cy="1849.7" r="9.3" fill="#fff" stroke="#000" stroke-width="2.1"/>
<circle cx="603.1" cy="1593.3" r="9.3" fill="#fff" stroke="#000" stroke-width="2.1"/>
<circle cx="603.1" cy="1742.7" r="9.3" fill="#fff" stroke="#000" stroke-width="2.1"/>
<rect x="595.45" y="1722.05" width="15.3" height="15.3" fill="#fff" stroke="#000" stroke-width="2"/>
<circle cx="673.6" cy="1588.3" r="9.3" fill="#fff" stroke="#000" stroke-width="2.1"/>
<rect x="665.95" y="1718.55" width="15.3" height="15.3" fill="#fff" stroke="#000" stroke-width="2"/>
<circle cx="673.6" cy="1775.7" r="9.3" fill="#fff" stroke="#000" stroke-width="2.1"/>
<line x1="149" y1="1852.2" x2="720" y2="1852.2" stroke="#1c1c1c" stroke-width="2.7" stroke-dasharray="13.8 14.2" stroke-dashoffset="0"/>
<rect x="129" y="1512" width="4" height="92.8" fill="#000"/>
<rect x="129" y="1634.9" width="4" height="273.3" fill="#000"/>
<rect x="121.3" y="1511.95" width="11.7" height="4" fill="#000"/>
<rect x="121.3" y="1541.65" width="11.7" height="4" fill="#000"/>
<rect x="121.3" y="1571" width="11.7" height="4" fill="#000"/>
<rect x="121.3" y="1600.8" width="21.6" height="4" fill="#000"/>
<rect x="121.3" y="1634.9" width="21.6" height="4" fill="#000"/>
<rect x="121.3" y="1688.8" width="11.7" height="4" fill="#000"/>
<rect x="121.3" y="1742.7" width="11.7" height="4" fill="#000"/>
<rect x="121.3" y="1796.2" width="11.7" height="4" fill="#000"/>
<rect x="121.3" y="1850.2" width="11.7" height="4" fill="#000"/>
<rect x="121" y="1903.8" width="598.5" height="4.4" fill="#000"/>
<rect x="175.2" y="1906" width="4.4" height="12" fill="#000"/>
<rect x="246.1" y="1906" width="4.4" height="12" fill="#000"/>
<rect x="317.6" y="1906" width="4.4" height="12" fill="#000"/>
<rect x="387.5" y="1906" width="4.4" height="12" fill="#000"/>
<rect x="458.5" y="1906" width="4.4" height="12" fill="#000"/>
<rect x="529.9" y="1906" width="4.4" height="12" fill="#000"/>
<rect x="600.9" y="1906" width="4.4" height="12" fill="#000"/>
<rect x="671.4" y="1906" width="4.4" height="12" fill="#000"/>
<text x="95.4" y="1525.5" font-size="32.5" text-anchor="middle" font-weight="normal" font-style="normal" fill="#141414" >80</text>
<text x="95.4" y="1610.8" font-size="32.5" text-anchor="middle" font-weight="normal" font-style="normal" fill="#141414" >20</text>
<text x="95.4" y="1650.5" font-size="32.5" text-anchor="middle" font-weight="normal" font-style="normal" fill="#141414" >5</text>
<text x="95.4" y="1702.6" font-size="32.5" text-anchor="middle" font-weight="normal" font-style="normal" fill="#141414" >4</text>
<text x="95.4" y="1755.6" font-size="32.5" text-anchor="middle" font-weight="normal" font-style="normal" fill="#141414" >3</text>
<text x="95.4" y="1807.9" font-size="32.5" text-anchor="middle" font-weight="normal" font-style="normal" fill="#141414" >2</text>
<text x="95.4" y="1860.6" font-size="32.5" text-anchor="middle" font-weight="normal" font-style="normal" fill="#141414" >1</text>
<text x="95.4" y="1913.2" font-size="32.5" text-anchor="middle" font-weight="normal" font-style="normal" fill="#141414" >0</text>
<text x="181.1" y="1958" font-size="32.5" text-anchor="middle" font-weight="normal" font-style="normal" fill="#141414" >BL</text>
<text x="249.8" y="1958" font-size="32.5" text-anchor="middle" font-weight="normal" font-style="normal" fill="#141414" >1mo</text>
<text x="322.3" y="1958" font-size="32.5" text-anchor="middle" font-weight="normal" font-style="normal" fill="#141414" >3mo</text>
<text x="395.5" y="1958" font-size="32.5" text-anchor="middle" font-weight="normal" font-style="normal" fill="#141414" >6mo</text>
<text x="466" y="1958" font-size="32.5" text-anchor="middle" font-weight="normal" font-style="normal" fill="#141414" >BL</text>
<text x="536.1" y="1958" font-size="32.5" text-anchor="middle" font-weight="normal" font-style="normal" fill="#141414" >1mo</text>
<text x="608.6" y="1958" font-size="32.5" text-anchor="middle" font-weight="normal" font-style="normal" fill="#141414" >3mo</text>
<text x="681.5" y="1958" font-size="32.5" text-anchor="middle" font-weight="normal" font-style="normal" fill="#141414" >6mo</text>
<rect x="217.4" y="1971.2" width="203.8" height="1.6" fill="#1a1a1a"/>
<rect x="508.7" y="1971.2" width="203.3" height="1.6" fill="#1a1a1a"/>
<text x="321.7" y="2008" font-size="32.5" text-anchor="middle" font-weight="normal" font-style="normal" fill="#141414" >ChT</text>
<text x="605.2" y="2008" font-size="32.5" text-anchor="middle" font-weight="normal" font-style="normal" fill="#141414" >ET</text>
<text transform="translate(57.1,1702) rotate(-90)" x="0" y="0" font-size="32.9" text-anchor="middle" fill="#141414"><tspan>Fold change CD56</tspan><tspan font-size="27.64" dy="-11">+</tspan><tspan dy="11">CD3</tspan><tspan font-size="27.64" dy="-11">-</tspan><tspan dy="11"> cells</tspan></text>
<polyline points="453.2,1430 453.2,1417.4 678,1417.4 678,1430" fill="none" stroke="#3a3a3a" stroke-width="1.4"/>
<polyline points="453.2,1470 453.2,1457.4 594.6,1457.4 594.6,1470" fill="none" stroke="#3a3a3a" stroke-width="1.4"/>
<polyline points="453.2,1509.9 453.2,1498.9 535.6,1498.9 535.6,1509.9" fill="none" stroke="#3a3a3a" stroke-width="1.4"/>
<text x="535.6" y="1407.5" font-size="33" text-anchor="start" font-weight="normal" font-style="italic" fill="#1e1e1e" >p=0.25</text>
<text x="472.2" y="1447.4" font-size="33" text-anchor="start" font-weight="normal" font-style="italic" fill="#1e1e1e" >p=0.25</text>
<text x="443.2" y="1490" font-size="33" text-anchor="start" font-weight="normal" font-style="italic" fill="#1e1e1e" >p=0.25</text>
<g clip-path="url(#c6)">
<polyline points="945.1,1860.3 1016.2,1793.8 1086.7,1858.8 1157.8,1877.8" fill="none" stroke="#000" stroke-width="2.4" stroke-linejoin="round" />
<polyline points="945.1,1860.3 1016.2,1886.4 1086.7,1805.3 1157.8,1870.3" fill="none" stroke="#000" stroke-width="2.4" stroke-linejoin="round" />
<polyline points="1229.3,1860.3 1300.4,1538.6 1371.4,1681.2 1442,1579.2" fill="none" stroke="#000" stroke-width="2.4" stroke-linejoin="round" />
<polyline points="1229.3,1860.3 1300.4,1823.8 1371.4,1770.3 1442,1697.7" fill="none" stroke="#000" stroke-width="2.4" stroke-linejoin="round" />
<polyline points="1229.3,1860.3 1300.4,1887.9 1371.4,1824.3 1442,1830.3" fill="none" stroke="#000" stroke-width="2.4" stroke-linejoin="round" />
</g>
<rect x="937.2" y="1852.4" width="15.8" height="15.8" fill="#000"/>
<circle cx="945.1" cy="1860.3" r="9.75" fill="#000"/>
<circle cx="1016.2" cy="1793.8" r="9.75" fill="#000"/>
<rect x="1008.3" y="1878.5" width="15.8" height="15.8" fill="#000"/>
<rect x="1078.8" y="1797.4" width="15.8" height="15.8" fill="#000"/>
<circle cx="1086.7" cy="1858.8" r="9.75" fill="#000"/>
<rect x="1149.9" y="1862.4" width="15.8" height="15.8" fill="#000"/>
<circle cx="1157.8" cy="1877.8" r="9.75" fill="#000"/>
<circle cx="1229.3" cy="1860.3" r="9.3" fill="#fff" stroke="#000" stroke-width="2.1"/>
<rect x="1221.65" y="1852.65" width="15.3" height="15.3" fill="#fff" stroke="#000" stroke-width="2"/>
<circle cx="1300.4" cy="1538.6" r="9.3" fill="#fff" stroke="#000" stroke-width="2.1"/>
<rect x="1292.75" y="1816.15" width="15.3" height="15.3" fill="#fff" stroke="#000" stroke-width="2"/>
<circle cx="1300.4" cy="1887.9" r="9.3" fill="#fff" stroke="#000" stroke-width="2.1"/>
<circle cx="1371.4" cy="1681.2" r="9.3" fill="#fff" stroke="#000" stroke-width="2.1"/>
<rect x="1363.75" y="1762.65" width="15.3" height="15.3" fill="#fff" stroke="#000" stroke-width="2"/>
<circle cx="1371.4" cy="1824.3" r="9.3" fill="#fff" stroke="#000" stroke-width="2.1"/>
<circle cx="1442" cy="1579.2" r="9.3" fill="#fff" stroke="#000" stroke-width="2.1"/>
<rect x="1434.35" y="1690.05" width="15.3" height="15.3" fill="#fff" stroke="#000" stroke-width="2"/>
<circle cx="1442" cy="1830.3" r="9.3" fill="#fff" stroke="#000" stroke-width="2.1"/>
<line x1="897" y1="1860.3" x2="1488" y2="1860.3" stroke="#1c1c1c" stroke-width="2.7" stroke-dasharray="13.8 14.2" stroke-dashoffset="8.5"/>
<rect x="896.4" y="1509.8" width="4" height="93.8" fill="#000"/>
<rect x="896.4" y="1633.9" width="4" height="273.6" fill="#000"/>
<rect x="886.6" y="1509.75" width="13.8" height="3.8" fill="#000"/>
<rect x="886.6" y="1554.75" width="13.8" height="3.8" fill="#000"/>
<rect x="886.6" y="1599.8" width="24" height="3.8" fill="#000"/>
<rect x="886.6" y="1634" width="24" height="3.8" fill="#000"/>
<rect x="886.6" y="1723.4" width="13.8" height="3.8" fill="#000"/>
<rect x="886.6" y="1813.4" width="13.8" height="3.8" fill="#000"/>
<rect x="886.4" y="1903.3" width="601.6" height="4.2" fill="#000"/>
<rect x="942.9" y="1905.4" width="4.4" height="12.1" fill="#000"/>
<rect x="1014" y="1905.4" width="4.4" height="12.1" fill="#000"/>
<rect x="1084.5" y="1905.4" width="4.4" height="12.1" fill="#000"/>
<rect x="1155.6" y="1905.4" width="4.4" height="12.1" fill="#000"/>
<rect x="1227.1" y="1905.4" width="4.4" height="12.1" fill="#000"/>
<rect x="1298.2" y="1905.4" width="4.4" height="12.1" fill="#000"/>
<rect x="1369.2" y="1905.4" width="4.4" height="12.1" fill="#000"/>
<rect x="1439.8" y="1905.4" width="4.4" height="12.1" fill="#000"/>
<text x="859.7" y="1522.5" font-size="32.5" text-anchor="middle" font-weight="normal" font-style="normal" fill="#141414" >20</text>
<text x="859.7" y="1561.6" font-size="32.5" text-anchor="middle" font-weight="normal" font-style="normal" fill="#141414" >15</text>
<text x="859.7" y="1601.2" font-size="32.5" text-anchor="middle" font-weight="normal" font-style="normal" fill="#141414" >10</text>
<text x="859.7" y="1650.5" font-size="32.5" text-anchor="middle" font-weight="normal" font-style="normal" fill="#141414" >6</text>
<text x="859.7" y="1735.5" font-size="32.5" text-anchor="middle" font-weight="normal" font-style="normal" fill="#141414" >4</text>
<text x="859.7" y="1821.2" font-size="32.5" text-anchor="middle" font-weight="normal" font-style="normal" fill="#141414" >2</text>
<text x="859.7" y="1909.8" font-size="32.5" text-anchor="middle" font-weight="normal" font-style="normal" fill="#141414" >0</text>
<text x="947.1" y="1957.4" font-size="32.5" text-anchor="middle" font-weight="normal" font-style="normal" fill="#141414" >BL</text>
<text x="1017.7" y="1957.4" font-size="32.5" text-anchor="middle" font-weight="normal" font-style="normal" fill="#141414" >1mo</text>
<text x="1089.2" y="1957.4" font-size="32.5" text-anchor="middle" font-weight="normal" font-style="normal" fill="#141414" >3mo</text>
<text x="1162" y="1957.4" font-size="32.5" text-anchor="middle" font-weight="normal" font-style="normal" fill="#141414" >6mo</text>
<text x="1233.6" y="1957.4" font-size="32.5" text-anchor="middle" font-weight="normal" font-style="normal" fill="#141414" >BL</text>
<text x="1302.8" y="1957.4" font-size="32.5" text-anchor="middle" font-weight="normal" font-style="normal" fill="#141414" >1mo</text>
<text x="1374.9" y="1957.4" font-size="32.5" text-anchor="middle" font-weight="normal" font-style="normal" fill="#141414" >3mo</text>
<text x="1448.7" y="1957.4" font-size="32.5" text-anchor="middle" font-weight="normal" font-style="normal" fill="#141414" >6mo</text>
<rect x="985.2" y="1970.6" width="202.6" height="1.6" fill="#1a1a1a"/>
<rect x="1275.3" y="1970.6" width="204.2" height="1.6" fill="#1a1a1a"/>
<text x="1089.6" y="2008" font-size="32.5" text-anchor="middle" font-weight="normal" font-style="normal" fill="#141414" >ChT</text>
<text x="1372.3" y="2008" font-size="32.5" text-anchor="middle" font-weight="normal" font-style="normal" fill="#141414" >ET</text>
<text transform="translate(826.2,1706.25) rotate(-90)" x="0" y="0" font-size="32.9" text-anchor="middle" fill="#141414"><tspan>Fold change CD56</tspan><tspan font-size="27.64" dy="-11">+</tspan><tspan dy="11">CD3</tspan><tspan font-size="27.64" dy="-11">+</tspan><tspan dy="11"> cells</tspan></text>
<polyline points="1232.8,1450 1232.8,1437.6 1458,1437.6 1458,1450" fill="none" stroke="#3a3a3a" stroke-width="1.4"/>
<polyline points="1232.8,1494 1232.8,1480.1 1373.9,1480.1 1373.9,1494" fill="none" stroke="#3a3a3a" stroke-width="1.4"/>
<polyline points="1231.8,1534 1231.8,1522.6 1313.9,1522.6 1313.9,1534" fill="none" stroke="#3a3a3a" stroke-width="1.4"/>
<text x="1315.4" y="1427.6" font-size="33" text-anchor="start" font-weight="normal" font-style="italic" fill="#1e1e1e" >p=0.25</text>
<text x="1251.8" y="1469.1" font-size="33" text-anchor="start" font-weight="normal" font-style="italic" fill="#1e1e1e" >p=0.25</text>
<text x="1226.8" y="1515.1" font-size="33" text-anchor="start" font-weight="normal" font-style="italic" fill="#1e1e1e" >p=0.50</text>
<rect x="254.5" y="2065.9" width="1020.7" height="155.5" fill="none" stroke="#1a1a1a" stroke-width="2"/>
<circle cx="296.9" cy="2082" r="12.6" fill="#1a1a1a"/>
<rect x="286.3" y="2113.3" width="21" height="20.4" fill="#1a1a1a"/>
<polygon points="296.9,2151.3 310.4,2174.4 283.4,2174.4" fill="#1a1a1a"/>
<polygon points="297.2,2188.6 311,2202 297.2,2215.3 283.4,2202" fill="#1a1a1a"/>
<text x="333.1" y="2095.9" font-size="33" text-anchor="start" font-weight="normal" font-style="normal" fill="#141414" >FEC</text>
<text x="333.1" y="2135.8" font-size="33" text-anchor="start" font-weight="normal" font-style="normal" fill="#141414" >Capecitabine (TNBC)</text>
<text x="333.1" y="2174.9" font-size="33" text-anchor="start" font-weight="normal" font-style="normal" fill="#141414" >Capecitabine + trastuzumab (HER2+)</text>
<text x="333.1" y="2215" font-size="33" text-anchor="start" font-weight="normal" font-style="normal" fill="#141414" >Docetaxel</text>
<polyline points="886.2,2071.3 900.4,2071.3 900.4,2207.5 886.2,2207.5" fill="none" stroke="#333" stroke-width="1.6"/>
<text x="907.5" y="2153.1" font-size="32" text-anchor="start" font-weight="normal" font-style="italic" fill="#141414" >ChT</text>
<circle cx="1047.2" cy="2119.3" r="11.2" fill="none" stroke="#1a1a1a" stroke-width="1.6"/>
<rect x="1038.5" y="2153.5" width="19" height="18.5" fill="none" stroke="#1a1a1a" stroke-width="1.5"/>
<text x="1078.2" y="2133.5" font-size="33" text-anchor="start" font-weight="normal" font-style="normal" fill="#141414" >AI</text>
<text x="1078.9" y="2173.8" font-size="33" text-anchor="start" font-weight="normal" font-style="normal" fill="#141414" >TAM</text>
<polyline points="1180.2,2114 1194.4,2114 1194.4,2170.2 1180.2,2170.2" fill="none" stroke="#333" stroke-width="1.6"/>
<text x="1208.6" y="2153.1" font-size="32" text-anchor="start" font-weight="normal" font-style="italic" fill="#141414" >ET</text>
<text x="-1.5" y="25" font-size="32.5" text-anchor="start" font-weight="bold" font-style="normal" fill="#141414" >a</text>
<text x="-0.5" y="682.8" font-size="32.5" text-anchor="start" font-weight="bold" font-style="normal" fill="#141414" >b</text>
<text x="-0.5" y="1380" font-size="32.5" text-anchor="start" font-weight="bold" font-style="normal" fill="#141414" >c</text>
<text x="769.5" y="1380" font-size="32.5" text-anchor="start" font-weight="bold" font-style="normal" fill="#141414" >d</text>
<text x="781" y="24.5" font-size="32.8" text-anchor="middle" font-weight="bold" font-style="normal" fill="#141414" >NK cells</text>
<text x="781.2" y="682.8" font-size="32.8" text-anchor="middle" font-weight="bold" font-style="normal" fill="#141414" >NKT cells</text>
<text x="416.2" y="1380" font-size="32.8" text-anchor="middle" font-weight="bold" font-style="normal" fill="#141414" >NK cells</text>
<text x="1194.3" y="1379.9" font-size="32.8" text-anchor="middle" font-weight="bold" font-style="normal" fill="#141414" >NKT cells</text>
</svg>
</body></html>
